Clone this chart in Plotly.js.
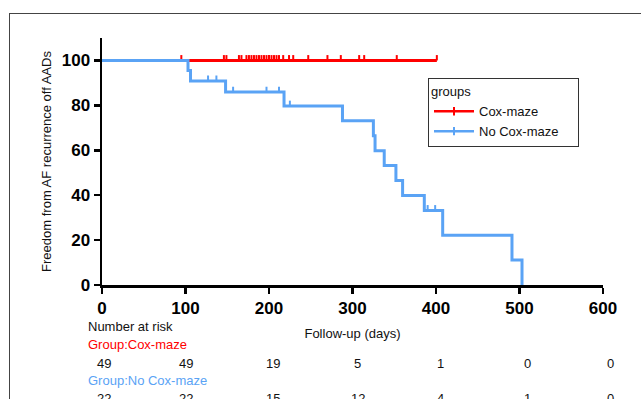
<!DOCTYPE html>
<html>
<head>
<meta charset="utf-8">
<script src="https://cdn.plot.ly/plotly-3.0.1.min.js"></script>
<style>
  html, body { margin: 0; padding: 0; background: #fff; overflow: hidden; width: 641px; height: 399px; }
  #chart { position: absolute; left: 0; top: 0; width: 641px; height: 399px; }
  #frame { position: absolute; left: 9px; top: 13px; width: 800px; height: 600px; border-left: 1px solid #444; border-top: 1px solid #444; pointer-events: none; }
</style>
</head>
<body>
<div id="chart"></div>
<div id="frame"></div>
<script>
// ---- data ----
const groups = ["Cox-maze", "No Cox-maze"];
const coxTimes = [0, 401];
const coxSurv = [100, 100];
const coxCensored = [95, 146, 149, 164, 167, 173, 176, 179, 182, 185, 188, 191, 194, 197, 200, 203, 206, 209, 212, 217, 224, 229, 247, 270, 286, 308, 314, 353, 401];
const noCoxTimes = [0, 103, 106, 148, 218, 288, 325, 327, 338, 352, 360, 386, 408, 491, 503];
const noCoxSurv = [100, 95.5, 90.9, 85.9, 79.7, 73.1, 66.5, 59.8, 53.2, 46.5, 39.9, 33.2, 22.2, 11.1, 0];
const noCoxCensored = [127, 137, 157, 197, 212, 225, 390, 399];
const riskTimes = [0, 100, 200, 300, 400, 500, 600];
const coxAtRisk = [49, 49, 19, 5, 1, 0, 0];
const noCoxAtRisk = [22, 22, 15, 12, 4, 1, 0];
const xTicks = [0, 100, 200, 300, 400, 500, 600];
const yTicks = [0, 20, 40, 60, 80, 100];

// ---- styles ----
const RED = "#ff0000";
const BLUE = "#5aa3f5";
const FONT = "Liberation Sans, Arial, sans-serif";
const PAD = "\u00a0\u00a0\u00a0\u00a0";

function stepAt(times, surv, t) {
  let v = surv[0];
  for (let i = 0; i < times.length; i++) { if (times[i] <= t) v = surv[i]; }
  return v;
}

function censorTrace(times, surv, cens, color) {
  return {
    x: cens, y: cens.map(t => stepAt(times, surv, t)),
    type: "scatter", mode: "markers", showlegend: false, hoverinfo: "skip",
    marker: { size: 1, color: "rgba(0,0,0,0)" },
    error_y: { type: "constant", symmetric: false, value: 2.4, valueminus: 0, thickness: 2, width: 0, color: color }
  };
}

const traces = [
  { x: coxTimes, y: coxSurv, type: "scatter", mode: "lines", line: { shape: "hv", color: RED, width: 3 }, showlegend: false, hoverinfo: "skip" },
  censorTrace(coxTimes, coxSurv, coxCensored, RED),
  { x: noCoxTimes, y: noCoxSurv, type: "scatter", mode: "lines", line: { shape: "hv", color: BLUE, width: 3 }, showlegend: false, hoverinfo: "skip" },
  censorTrace(noCoxTimes, noCoxSurv, noCoxCensored, BLUE),
  { x: [null], y: [null], type: "scatter", mode: "lines+markers", name: groups[0], line: { color: RED, width: 2.5 }, marker: { symbol: "line-ns-open", size: 6, color: RED, line: { color: RED, width: 2 } } },
  { x: [null], y: [null], type: "scatter", mode: "lines+markers", name: groups[1] + PAD, line: { color: BLUE, width: 2.5 }, marker: { symbol: "line-ns-open", size: 6, color: BLUE, line: { color: BLUE, width: 2 } } }
];

// pixel helpers for annotation placement (plot area: y=285 bottom, 247.5 px tall)
const py = p => (285 - p) / 247.5;
const px = p => (p - 102) / 501;
const colShift = [2, 0, 4, 5, 4, 8, 7];

const annotations = [
  { text: "Number at risk", xref: "paper", yref: "paper", x: px(86), y: py(327), xanchor: "left", yanchor: "middle", showarrow: false, font: { family: FONT, size: 13, color: "#111" } },
  { text: "Group:Cox-maze", xref: "paper", yref: "paper", x: px(86), y: py(345), xanchor: "left", yanchor: "middle", showarrow: false, font: { family: FONT, size: 13, color: RED } },
  { text: "Group:No Cox-maze", xref: "paper", yref: "paper", x: px(86), y: py(381), xanchor: "left", yanchor: "middle", showarrow: false, font: { family: FONT, size: 13, color: BLUE } }
];
riskTimes.forEach((t, i) => {
  annotations.push({ text: String(coxAtRisk[i]), xref: "x", yref: "paper", x: t, xshift: colShift[i], y: py(364), xanchor: "center", yanchor: "middle", showarrow: false, font: { family: FONT, size: 13, color: "#111" } });
  annotations.push({ text: String(noCoxAtRisk[i]), xref: "x", yref: "paper", x: t, xshift: colShift[i], y: py(399), xanchor: "center", yanchor: "middle", showarrow: false, font: { family: FONT, size: 13, color: "#111" } });
});

const layout = {
  width: 641, height: 399,
  margin: { l: 102, r: 38, t: 37.5, b: 114 },
  paper_bgcolor: "rgba(0,0,0,0)", plot_bgcolor: "rgba(0,0,0,0)",
  font: { family: FONT, size: 13, color: "#111" },
  xaxis: {
    range: [0, 600], tickvals: xTicks, ticktext: xTicks.map(String),
    showline: true, linecolor: "#000", linewidth: 2.5,
    ticks: "outside", ticklen: 6, tickwidth: 2.5, tickcolor: "#000",
    showgrid: false, zeroline: false,
    tickfont: { family: FONT, size: 17, color: "#000", weight: "bold" },
    title: { text: "Follow-up (days)", font: { family: FONT, size: 13, color: "#111" }, standoff: 12 }
  },
  yaxis: {
    range: [0, 110], tickvals: yTicks, ticktext: yTicks.map(String),
    showline: true, linecolor: "#000", linewidth: 2.5,
    ticks: "outside", ticklen: 6, tickwidth: 2.5, tickcolor: "#000",
    showgrid: false, zeroline: false,
    tickfont: { family: FONT, size: 17, color: "#000", weight: "bold" },
    title: { text: "Freedom from AF recurrence off AADs", font: { family: FONT, size: 13, color: "#111" }, standoff: 7 }
  },
  showlegend: true,
  legend: {
    x: px(428), y: py(78), xanchor: "left", yanchor: "top",
    bordercolor: "#333", borderwidth: 1, bgcolor: "#fff",
    title: { text: "groups", font: { family: FONT, size: 13, color: "#111" } },
    font: { family: FONT, size: 13, color: "#111" },
    itemwidth: 40
  },
  annotations: annotations
};

Plotly.newPlot("chart", traces, layout, { staticPlot: true, displayModeBar: false });
</script>
</body>
</html>
